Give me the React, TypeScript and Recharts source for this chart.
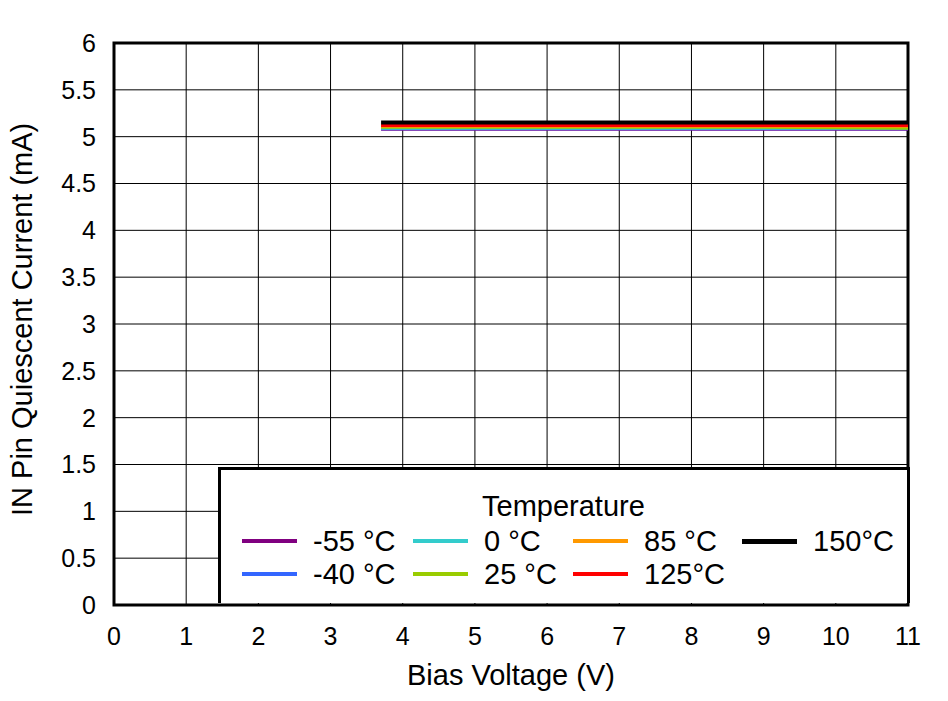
import { LineChart, Line, XAxis, YAxis, CartesianGrid, ReferenceArea } from "recharts";

const biasVoltage = [3.7, 5, 7, 9, 11];
const tempLabels = ["-55 °C", "-40 °C", "0 °C", "25 °C", "85 °C", "125°C", "150°C"];
const tempColors = ["#800080", "#3366ff", "#33cccc", "#99cc00", "#ff9900", "#ff0000", "#000000"];
const tempWidths = [3, 3, 3, 3, 3, 3, 4];
const qMinus55 = [5.08, 5.08, 5.08, 5.08, 5.08];
const qMinus40 = [5.085, 5.085, 5.085, 5.085, 5.085];
const q0 = [5.09, 5.09, 5.09, 5.09, 5.09];
const q25 = [5.1, 5.1, 5.1, 5.1, 5.09];
const q85 = [5.11, 5.11, 5.11, 5.11, 5.11];
const q125 = [5.12, 5.12, 5.12, 5.12, 5.12];
const q150 = [5.15, 5.15, 5.15, 5.15, 5.15];
const series = [qMinus55, qMinus40, q0, q25, q85, q125, q150];
const xTicks = [0, 1, 2, 3, 4, 5, 6, 7, 8, 9, 10, 11];
const yTicks = [0, 0.5, 1, 1.5, 2, 2.5, 3, 3.5, 4, 4.5, 5, 5.5, 6];

const data = biasVoltage.map((v, i) => {
  const row: Record<string, number> = { v };
  series.forEach((s, k) => { row[`t${k}`] = s[i]; });
  return row;
});

const font = "'Liberation Sans', Arial, sans-serif";

// legend grid: column-major, 2 rows
const legendCols = [[0, 1], [2, 3], [4, 5], [6]];
const colLeft = [242, 413, 573, 742];

export default function App() {
  return (
    <div style={{ position: "absolute", left: 0, top: 0, width: 948, height: 701, background: "#fff", fontFamily: font }}>
      <LineChart width={948} height={701} data={data}
        margin={{ top: 43, right: 40, bottom: 36, left: 40 }}>
        <CartesianGrid stroke="#000" strokeWidth={1} horizontalValues={yTicks} verticalValues={xTicks} />
        <XAxis dataKey="v" type="number" domain={[0, 11]} ticks={xTicks} interval={0}
          tickLine={false} axisLine={false} height={60} tickMargin={16}
          tick={{ fill: "#000", fontSize: 25, fontFamily: font }}
          label={{ value: "Bias Voltage (V)", position: "insideBottom", offset: -20, fill: "#000", fontSize: 29, fontFamily: font }} />
        <YAxis type="number" domain={[0, 6]} ticks={yTicks} interval={0}
          tickLine={false} axisLine={false} width={74} tickMargin={12}
          tick={{ fill: "#000", fontSize: 25, fontFamily: font }}
          label={{ value: "IN Pin Quiescent Current (mA)", angle: -90, position: "insideLeft", dx: -23, dy: 192, fill: "#000", fontSize: 29, fontFamily: font }} />
        {series.map((_, k) => (
          <Line key={k} dataKey={`t${k}`} stroke={tempColors[k]} strokeWidth={tempWidths[k]}
            dot={false} isAnimationActive={false} type="linear" />
        ))}
        <ReferenceArea x1={0} x2={11} y1={0} y2={6} fill="none" stroke="#000" strokeWidth={3} ifOverflow="visible" />
      </LineChart>
      <div style={{
        position: "absolute", left: 218, top: 467, width: 692, height: 136,
        background: "#fff", border: "3px solid #000", borderBottom: "none", boxSizing: "border-box",
      }}>
        <div style={{ position: "absolute", left: 261, top: 20, fontSize: 29, color: "#000", lineHeight: "32px" }}>
          Temperature
        </div>
        {legendCols.map((col, ci) => col.map((k, ri) => (
          <div key={k} style={{ position: "absolute", left: colLeft[ci] - 221, top: 55 + ri * 33, display: "flex", alignItems: "center", height: 32 }}>
            <div style={{ width: 55, height: tempWidths[k] + 1, background: tempColors[k] }} />
            <span style={{ marginLeft: 16, fontSize: 29, color: "#000", whiteSpace: "nowrap" }}>{tempLabels[k]}</span>
          </div>
        )))}
      </div>
    </div>
  );
}
